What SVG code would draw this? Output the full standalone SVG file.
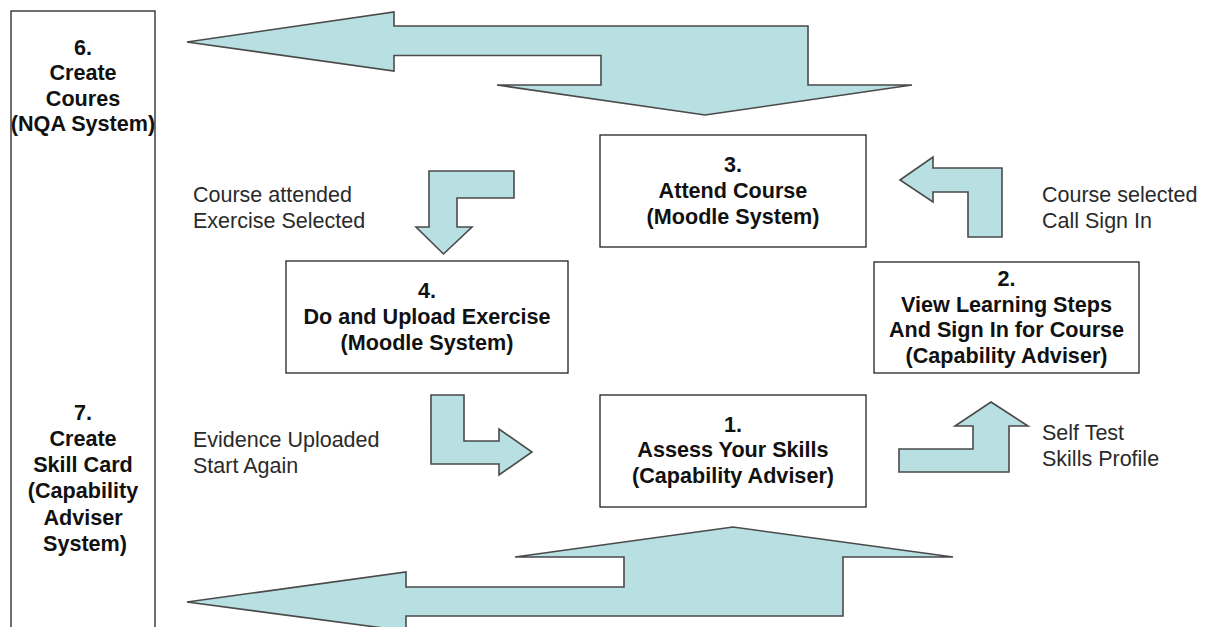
<svg xmlns="http://www.w3.org/2000/svg" width="1205" height="627" viewBox="0 0 1205 627">
<style>
.box{fill:#fff;stroke:#222;stroke-width:1.3}
.arr{fill:#b8dfe2;stroke:#4a4a4a;stroke-width:1.6;stroke-linejoin:miter}
.t{font-family:"Liberation Sans",Arial,sans-serif;font-size:21.6px;font-weight:bold;fill:#111;text-anchor:middle}
.l{font-family:"Liberation Sans",Arial,sans-serif;font-size:21.5px;fill:#2a2a2a}
</style>
<rect width="1205" height="627" fill="#fff"/>
<g id="node6">
<rect class="box" x="11" y="11" width="144" height="640"/>
<text class="t"><tspan x="83" y="55">6.</tspan><tspan x="83" y="80">Create</tspan><tspan x="83" y="106">Coures</tspan><tspan x="83" y="131">(NQA System)</tspan></text>
</g>
<g id="node7">
<text class="t"><tspan x="83" y="420">7.</tspan><tspan x="83" y="446">Create</tspan><tspan x="83" y="472">Skill Card</tspan><tspan x="83" y="498">(Capability</tspan><tspan x="83" y="524.5">Adviser</tspan><tspan x="85" y="551">System)</tspan></text>
</g>
<g id="node3">
<rect class="box" x="600" y="135" width="266" height="112"/>
<text class="t"><tspan x="733" y="172">3.</tspan><tspan x="733" y="198">Attend Course</tspan><tspan x="733" y="224">(Moodle System)</tspan></text>
</g>
<g id="node4">
<rect class="box" x="286" y="261" width="282" height="112"/>
<text class="t"><tspan x="427" y="298">4.</tspan><tspan x="427" y="324">Do and Upload Exercise</tspan><tspan x="427" y="350">(Moodle System)</tspan></text>
</g>
<g id="node2">
<rect class="box" x="874" y="262" width="265" height="111"/>
<text class="t"><tspan x="1006.5" y="286">2.</tspan><tspan x="1006.5" y="312">View Learning Steps</tspan><tspan x="1006.5" y="337">And Sign In for Course</tspan><tspan x="1006.5" y="363">(Capability Adviser)</tspan></text>
</g>
<g id="node1">
<rect class="box" x="600" y="395" width="266" height="112"/>
<text class="t"><tspan x="733" y="432">1.</tspan><tspan x="733" y="457">Assess Your Skills</tspan><tspan x="733" y="483">(Capability Adviser)</tspan></text>
</g>
<g id="connectors">
<path class="arr" d="M187,42 L394,12 L394,26 L808,26 L808,85 L912,85 L705,115 L497,85 L601,85 L601,55.5 L394,55.5 L394,71 Z"/>
<path class="arr" d="M187,602 L406,572 L406,587 L624,587 L624,557 L515,557 L733,527 L953,557 L843,557 L843,616 L406,616 L406,631 Z"/>
<path class="arr" d="M429,171 L514,171 L514,198 L457,198 L457,227 L472,227 L443.5,254 L416,227 L429,227 Z"/>
<path class="arr" d="M900,180 L933,157 L933,168 L1002,168 L1002,237 L968,237 L968,192 L933,192 L933,202 Z"/>
<path class="arr" d="M431,395 L464,395 L464,441 L499,441 L499,429 L532,452 L499,475 L499,464 L431,464 Z"/>
<path class="arr" d="M991,402 L1028,426 L1009,426 L1009,472 L899,472 L899,449 L973,449 L973,426 L955,426 Z"/>
</g>
<g id="labels">
<text class="l"><tspan x="193" y="201.5">Course attended</tspan><tspan x="193" y="227.5">Exercise Selected</tspan></text>
<text class="l"><tspan x="193" y="446.5">Evidence Uploaded</tspan><tspan x="193" y="472.5">Start Again</tspan></text>
<text class="l"><tspan x="1042" y="201.5">Course selected</tspan><tspan x="1042" y="227.5">Call Sign In</tspan></text>
<text class="l"><tspan x="1042" y="439.5">Self Test</tspan><tspan x="1042" y="465.5">Skills Profile</tspan></text>
</g>
</svg>
